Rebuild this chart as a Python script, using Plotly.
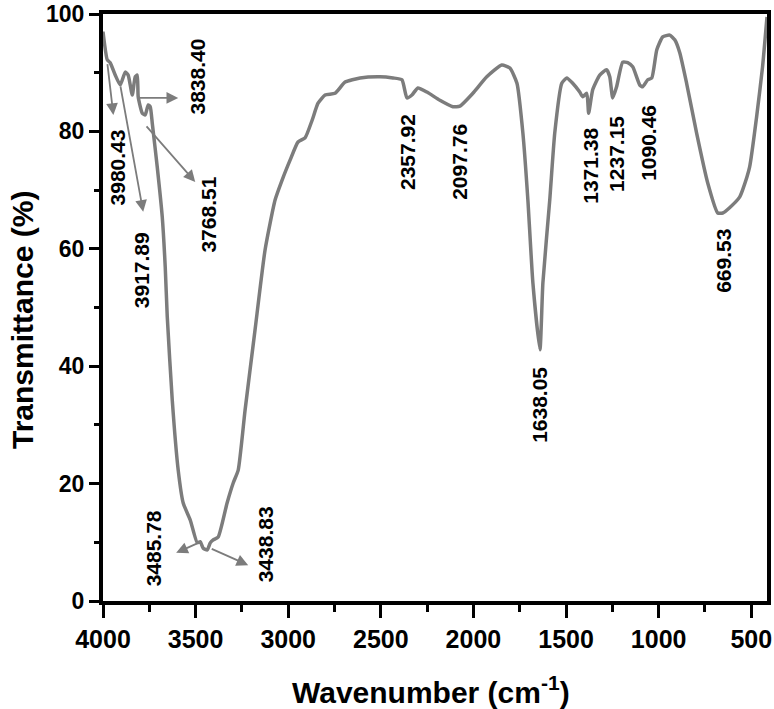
import plotly.graph_objects as go

# FTIR spectrum: wavenumber (cm-1) and transmittance (%)
wavenumber = [4000, 3977, 3961, 3934, 3907, 3880, 3864, 3842, 3826, 3815, 3810, 3788, 3772,
              3756, 3745, 3734, 3707, 3680, 3664, 3653, 3626, 3594, 3567, 3529, 3491, 3475,
              3459, 3437, 3421, 3405, 3378, 3330, 3297, 3270, 3233, 3179, 3125, 3071, 3033,
              2990, 2947, 2909, 2871, 2839, 2801, 2747, 2693, 2612, 2505, 2434, 2386, 2359,
              2332, 2300, 2251, 2181, 2111, 2073, 2003, 1928, 1847, 1803, 1765, 1733, 1706,
              1679, 1641, 1625, 1588, 1561, 1523, 1496, 1464, 1426, 1410, 1388, 1378, 1356,
              1318, 1281, 1264, 1248, 1227, 1194, 1167, 1140, 1102, 1086, 1059, 1037, 1010,
              978, 940, 913, 886, 849, 795, 735, 681, 654, 617, 563, 547, 509, 471, 439, 415]
transmittance = [97.0, 92.2, 91.7, 89.6, 87.9, 90.1, 89.6, 86.2, 89.3, 89.6, 85.9, 83.1, 82.8,
                 84.5, 84.2, 81.4, 73.9, 65.4, 56.9, 48.4, 34.2, 22.3, 16.7, 13.8, 9.9, 10.1,
                 9.0, 8.7, 9.9, 10.4, 10.9, 16.7, 20.1, 22.3, 32.5, 46.2, 59.8, 68.3, 71.7,
                 75.1, 78.2, 78.9, 81.9, 84.8, 86.2, 86.5, 88.4, 89.1, 89.3, 89.1, 88.8, 85.7,
                 86.2, 87.4, 86.7, 85.3, 84.2, 84.3, 86.5, 89.3, 91.3, 90.8, 88.2, 79.7, 68.3,
                 54.2, 42.8, 54.2, 68.3, 79.7, 88.2, 89.1, 88.2, 86.7, 85.9, 86.5, 83.1, 87.1,
                 89.6, 90.5, 89.3, 85.7, 87.6, 91.8, 91.7, 91.0, 87.9, 87.6, 88.8, 89.1, 93.9,
                 96.1, 96.4, 95.6, 93.4, 88.2, 79.7, 71.2, 66.1, 66.1, 67.0, 68.8, 70.0, 73.9,
                 82.5, 91.0, 99.5]

# Peak labels
peak_labels = ["3980.43", "3917.89", "3838.40", "3768.51", "3485.78", "3438.83",
               "2357.92", "2097.76", "1638.05", "1371.38", "1237.15", "1090.46", "669.53"]
label_x = [3923, 3788, 3491, 3431, 3729, 3124, 2353, 2073, 1641, 1372, 1227, 1059, 654]
label_y = [73.9, 56.4, 89.4, 65.9, 9.0, 9.7, 76.5, 74.8, 33.4, 74.1, 76.1, 78.0, 57.9]

# Pointer arrows: tail (on curve) -> head
arrow_tail_x = [3977, 3907, 3810, 3772, 3486, 3421]
arrow_tail_y = [91.7, 87.9, 85.7, 81.1, 9.9, 9.0]
arrow_head_x = [3944, 3783, 3594, 3502, 3605, 3216]
arrow_head_y = [82.8, 66.3, 85.7, 71.4, 8.2, 6.1]

FONT = "Liberation Sans, Arial, sans-serif"
GRAY = "#7c7c7c"

fig = go.Figure()
fig.add_trace(go.Scatter(x=wavenumber, y=transmittance, mode="lines",
                         line=dict(color=GRAY, width=3.5, shape="spline", smoothing=0.5),
                         showlegend=False, hoverinfo="skip"))

annotations = []
for tx, ty, hx, hy in zip(arrow_tail_x, arrow_tail_y, arrow_head_x, arrow_head_y):
    annotations.append(dict(x=hx, y=hy, ax=tx, ay=ty, xref="x", yref="y",
                            axref="x", ayref="y", text="", showarrow=True,
                            arrowhead=2, arrowsize=1.3, arrowwidth=1.8,
                            arrowcolor=GRAY, standoff=0, startstandoff=0))
for t, lx, ly in zip(peak_labels, label_x, label_y):
    annotations.append(dict(x=lx, y=ly, xref="x", yref="y", text=t, showarrow=False,
                            textangle=-90, xanchor="center", yanchor="middle",
                            font=dict(family=FONT, size=21, color="black", weight="bold")))

annotations.append(dict(x=0.494, y=0, xref="paper", yref="paper", yshift=-89,
                        text="Wavenumber (cm<sup>-1</sup>)", showarrow=False,
                        xanchor="center", yanchor="middle",
                        font=dict(family=FONT, size=30, color="black", weight="bold")))
annotations.append(dict(x=0, y=0.4787, xref="paper", yref="paper", xshift=-81,
                        text="Transmittance (%)", showarrow=False, textangle=-90,
                        xanchor="center", yanchor="middle",
                        font=dict(family=FONT, size=30, color="black", weight="bold")))

fig.update_layout(
    width=774, height=709,
    margin=dict(l=103, r=7, t=14, b=108, autoexpand=False),
    paper_bgcolor="white", plot_bgcolor="white",
    annotations=annotations,
    xaxis=dict(range=[4000, 415], tickmode="linear", tick0=500, dtick=500,
               ticks="outside", ticklen=13, tickwidth=3, tickcolor="black",
               showline=True, linewidth=4, linecolor="black", mirror=True,
               showgrid=False, zeroline=False, automargin=False,
               tickfont=dict(family=FONT, size=25, color="black", weight="bold"),
               minor=dict(dtick=250, ticks="outside", ticklen=7, tickwidth=3,
                          tickcolor="black", showgrid=False)),
    yaxis=dict(range=[0, 100], tickmode="linear", tick0=0, dtick=20,
               ticks="outside", ticklen=10, tickwidth=3, tickcolor="black",
               showline=True, linewidth=4, linecolor="black", mirror=True,
               showgrid=False, zeroline=False, automargin=False,
               tickfont=dict(family=FONT, size=23, color="black", weight="bold"),
               minor=dict(dtick=10, ticks="outside", ticklen=5, tickwidth=3,
                          tickcolor="black", showgrid=False)),
)

fig.write_html("out.html", config={"displayModeBar": False},
               post_script="document.body.style.margin='0';document.body.style.overflow='hidden';")
